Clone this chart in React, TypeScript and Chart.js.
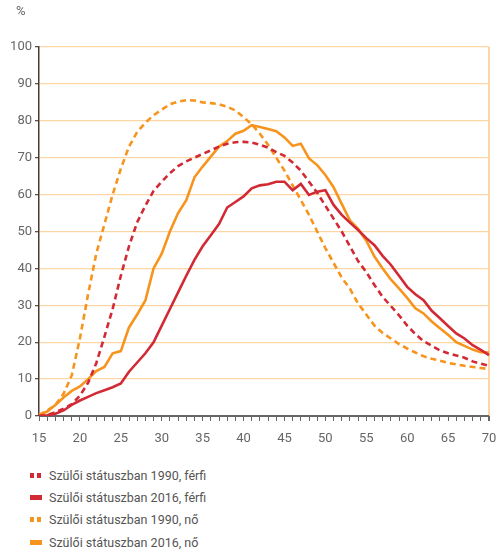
import React, { useEffect, useRef } from 'react';
import { Chart, registerables } from 'chart.js';

Chart.register(...registerables);

const ages = ['15','16','17','18','19','20','21','22','23','24','25','26','27','28','29','30','31','32','33','34','35','36','37','38','39','40','41','42','43','44','45','46','47','48','49','50','51','52','53','54','55','56','57','58','59','60','61','62','63','64','65','66','67','68','69','70'];

const men1990 = [0, 0.3, 1, 2, 3.2, 5.5, 9, 14.3, 21.5, 29, 38, 46, 52.5, 57, 61, 63.5, 65.8, 67.7, 69, 70, 71, 72, 73, 73.8, 74.2, 74.3, 74.1, 73.5, 72.7, 71.5, 70.5, 68.7, 66.5, 63.5, 60.5, 57, 53.5, 50, 46, 42, 39, 35.5, 32.3, 29.8, 27.3, 24.5, 22.2, 20.3, 19, 17.8, 17, 16.4, 15.8, 14.8, 14.2, 13.6];

const men2016 = [0, 0.2, 0.6, 1.5, 3, 4.2, 5.2, 6.2, 7, 7.8, 8.8, 12, 14.5, 17, 20, 24.5, 29, 33.5, 38, 42.3, 46, 49, 52, 56.5, 58, 59.5, 61.7, 62.5, 62.8, 63.5, 63.5, 61.2, 62.9, 59.9, 60.8, 61.2, 57.2, 54.5, 52.4, 50.4, 48.2, 46.3, 43.4, 41, 38, 35, 33, 31.4, 28.5, 26.5, 24.4, 22.4, 21, 19.2, 17.9, 16.5];

const women1990 = [0.3, 1.5, 3, 6, 11, 21, 33, 44, 52, 60, 67, 73, 77, 79.5, 81.5, 83, 84.5, 85.2, 85.6, 85.5, 85, 84.8, 84.5, 83.8, 82.8, 81, 79, 76.5, 73.5, 70, 66.5, 62.5, 58.5, 54.5, 50, 45.5, 41.5, 37.5, 34.5, 30.5, 27.5, 24.5, 22.5, 21, 19.5, 18.3, 17.2, 16.2, 15.5, 15, 14.4, 14, 13.6, 13.3, 13, 12.7];

const women2016 = [0.3, 1.2, 3, 5, 6.8, 8, 10, 12.2, 13.3, 17, 17.6, 24, 27.5, 31.3, 40, 44, 50, 55, 58.5, 64.7, 67.6, 70.3, 73, 74.5, 76.5, 77.3, 78.8, 78.3, 77.8, 77.2, 75.5, 73.2, 73.8, 69.8, 68, 65.3, 62, 57.5, 53, 50.7, 47.5, 43.2, 40, 37, 34.6, 32, 29.2, 27.8, 25.6, 23.8, 22, 20, 19, 18, 17.3, 17.2];

const seriesLabels = [
  'Szülői státuszban 1990, férfi',
  'Szülői státuszban 2016, férfi',
  'Szülői státuszban 1990, nő',
  'Szülői státuszban 2016, nő',
];

const RED = '#d22a35';
const ORANGE = '#f7941e';
const GRID = '#fdd6a6';
const TEXT = '#666666';
const FONT_FAMILY = 'Roboto, "Noto Sans", sans-serif';

export default function App() {
  const ref = useRef<HTMLCanvasElement | null>(null);

  useEffect(() => {
    if (!ref.current) return;
    const font = { family: FONT_FAMILY, size: 13 };
    const chart = new Chart(ref.current, {
      type: 'line',
      data: {
        labels: ages,
        datasets: [
          { label: seriesLabels[0], data: men1990, borderColor: RED, borderDash: [6, 4], borderWidth: 2.6 },
          { label: seriesLabels[1], data: men2016, borderColor: RED, borderWidth: 2.6 },
          { label: seriesLabels[2], data: women1990, borderColor: ORANGE, borderDash: [6, 4], borderWidth: 2.6 },
          { label: seriesLabels[3], data: women2016, borderColor: ORANGE, borderWidth: 2.6 },
        ],
      },
      options: {
        animation: false,
        responsive: false,
        maintainAspectRatio: false,
        layout: { padding: { top: 47, right: 9, left: 0, bottom: 0 } },
        plugins: { legend: { display: false }, tooltip: { enabled: false } },
        elements: { point: { radius: 0 }, line: { tension: 0, fill: false } },
        scales: {
          x: {
            type: 'category',
            offset: false,
            grid: {
              color: (ctx: any) => (ctx.index === ages.length - 1 ? GRID : 'rgba(0,0,0,0)'),
              lineWidth: (ctx: any) => (ctx.index === ages.length - 1 ? 2 : 1),
              tickColor: '#666',
              tickLength: 5,
            },
            border: { color: '#666', width: 1 },
            ticks: {
              autoSkip: false,
              maxRotation: 0,
              color: TEXT,
              font,
              padding: 10,
              callback: (_v: any, i: number) => (i % 5 === 0 ? ages[i] : ''),
            },
            afterFit: (s: any) => {
              s.height = 44;
              s.paddingLeft = 0;
              s.paddingRight = 0;
            },
          },
          y: {
            min: 0,
            max: 100,
            ticks: { stepSize: 10, color: TEXT, font, padding: 3 },
            grid: {
              color: (ctx: any) => (ctx.tick && ctx.tick.value === 0 ? '#666' : GRID),
              tickColor: '#555',
              tickLength: 4,
              lineWidth: 1.3,
            },
            border: { color: '#4b3a2e', width: 1.5 },
            afterFit: (s: any) => {
              s.width = 39;
              s.paddingTop = 0;
              s.paddingBottom = 0;
            },
          },
        },
      },
    });
    return () => chart.destroy();
  }, []);

  const markerDash = (color: string) => (
    <span style={{ display: 'inline-flex', gap: 3, width: 13, marginRight: 6 }}>
      <span style={{ width: 4, height: 5, background: color, display: 'inline-block' }} />
      <span style={{ width: 4, height: 5, background: color, display: 'inline-block' }} />
    </span>
  );
  const markerSolid = (color: string) => (
    <span style={{ display: 'inline-block', width: 13, marginRight: 6 }}>
      <span style={{ width: 12, height: 5, background: color, display: 'block' }} />
    </span>
  );

  const rows = [
    { m: markerDash(RED), t: seriesLabels[0] },
    { m: markerSolid(RED), t: seriesLabels[1] },
    { m: markerDash(ORANGE), t: seriesLabels[2] },
    { m: markerSolid(ORANGE), t: seriesLabels[3] },
  ];

  return (
    <div style={{ position: 'absolute', left: 0, top: 0, width: 498, height: 549, background: '#fff', fontFamily: FONT_FAMILY }}>
      <canvas ref={ref} width={498} height={460} style={{ position: 'absolute', left: 0, top: 0, width: 498, height: 460 }} />
      <span style={{ position: 'absolute', left: 16, top: 3, fontSize: 13, color: TEXT }}>%</span>
      {rows.map((r, i) => (
        <div key={i} style={{ position: 'absolute', left: 30, top: 466 + i * 22.4, height: 18, display: 'flex', alignItems: 'center', fontSize: 12.5, color: '#555', whiteSpace: 'nowrap' }}>
          {r.m}
          <span>{r.t}</span>
        </div>
      ))}
    </div>
  );
}
